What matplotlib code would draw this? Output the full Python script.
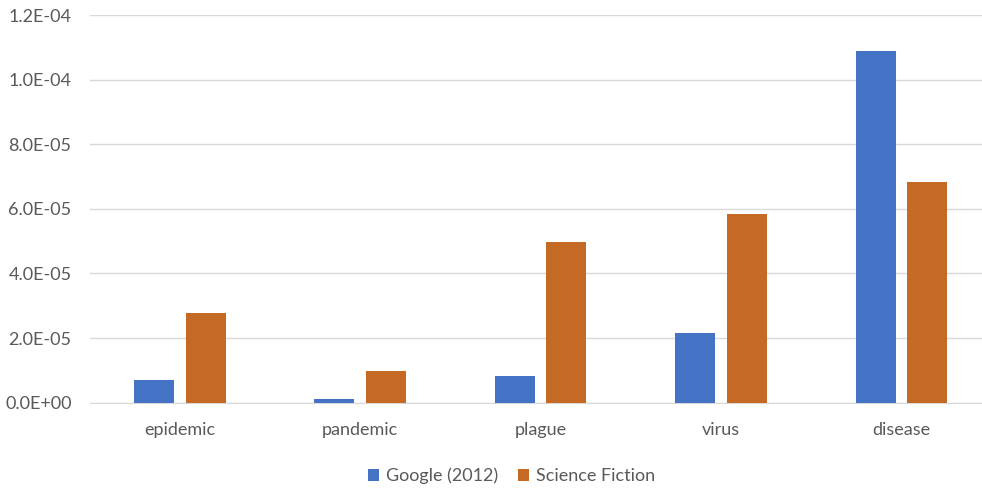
import numpy as np
import matplotlib.pyplot as plt
from matplotlib.ticker import FuncFormatter

categories = ['epidemic', 'pandemic', 'plague', 'virus', 'disease']
google_2012 = [7.0e-6, 1.0e-6, 8.2e-6, 2.17e-5, 1.089e-4]
science_fiction = [2.76e-5, 9.7e-6, 4.96e-5, 5.83e-5, 6.83e-5]
series_names = ['Google (2012)', 'Science Fiction']

blue = '#4472C4'
orange = '#C56A24'
text_col = '#595959'

plt.rcParams['font.family'] = ['Lato', 'DejaVu Sans']

fig = plt.figure(figsize=(9.82, 4.88), dpi=100)
# plot area runs a little past the right edge, as in the original
ax = fig.add_axes([0.0912, 0.175, 0.9185, 0.794])

x = np.arange(len(categories))
w = 0.222
ax.bar(x - 0.143, google_2012, w, color=blue, label=series_names[0], zorder=3)
ax.bar(x + 0.143, science_fiction, w, color=orange, label=series_names[1], zorder=3)

ax.set_xlim(-0.5, len(categories) - 0.5)
ax.set_ylim(0, 1.2e-4)
ax.set_yticks(np.arange(0, 1.21e-4, 2e-5))
ax.yaxis.set_major_formatter(FuncFormatter(lambda v, p: '%.1E' % v))
ax.set_xticks(x)
ax.set_xticklabels(categories)

ax.grid(axis='y', color='#D9D9D9', linewidth=1, zorder=0)
for s in ['top', 'right', 'left']:
    ax.spines[s].set_visible(False)
ax.spines['bottom'].set_color('#D9D9D9')
ax.tick_params(length=0, colors=text_col, labelsize=13)
ax.tick_params(axis='y', pad=13)
ax.tick_params(axis='x', pad=14)

leg = fig.legend(loc='lower center', bbox_to_anchor=(0.521, -0.026), ncol=2,
                 frameon=False, fontsize=13, handlelength=0.6, handleheight=0.6,
                 handletextpad=0.4, columnspacing=1.1)
for t in leg.get_texts():
    t.set_color(text_col)

fig.savefig('out.png', dpi=100)
